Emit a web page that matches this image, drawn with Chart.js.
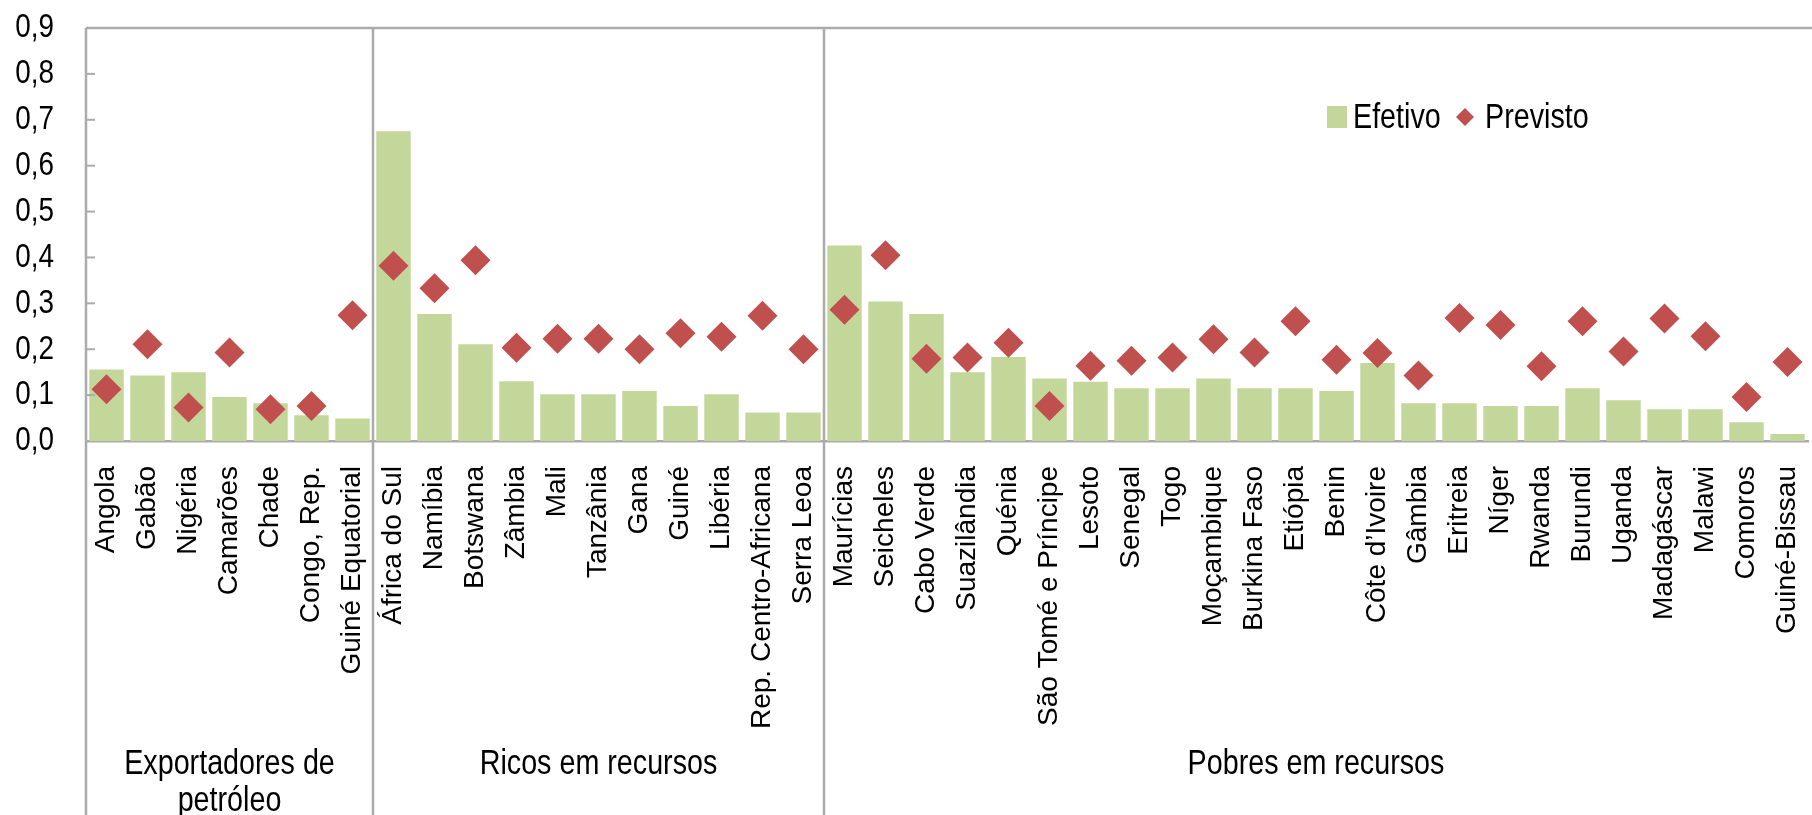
<!DOCTYPE html>
<html lang="pt">
<head>
<meta charset="utf-8">
<title>Efetivo e previsto</title>
<script src="https://cdn.jsdelivr.net/npm/chart.js@4.4.1/dist/chart.umd.min.js"></script>
<style>
  html, body { margin: 0; padding: 0; background: #fff; overflow: hidden; }
  canvas { display: block; }
</style>
</head>
<body>
<canvas id="grafico" width="1823" height="815"></canvas>
<script>
const paises = [
  'Angola', 'Gabão', 'Nigéria', 'Camarões', 'Chade', 'Congo, Rep.', 'Guiné Equatorial',
  'África do Sul', 'Namíbia', 'Botswana', 'Zâmbia', 'Mali', 'Tanzânia', 'Gana', 'Guiné',
  'Libéria', 'Rep. Centro-Africana', 'Serra Leoa',
  'Maurícias', 'Seicheles', 'Cabo Verde', 'Suazilândia', 'Quénia', 'São Tomé e Príncipe',
  'Lesoto', 'Senegal', 'Togo', 'Moçambique', 'Burkina Faso', 'Etiópia', 'Benin',
  'Côte d’Ivoire', 'Gâmbia', 'Eritreia', 'Níger', 'Rwanda', 'Burundi', 'Uganda',
  'Madagáscar', 'Malawi', 'Comoros', 'Guiné-Bissau'
];

const efetivo = [
  0.156, 0.143, 0.150, 0.096, 0.082, 0.056, 0.049,
  0.675, 0.277, 0.211, 0.130, 0.102, 0.102, 0.109, 0.076, 0.102, 0.062, 0.062,
  0.426, 0.304, 0.277, 0.150, 0.183, 0.136, 0.129, 0.115, 0.115, 0.136, 0.115, 0.115,
  0.109, 0.170, 0.082, 0.082, 0.076, 0.076, 0.115, 0.089, 0.069, 0.069, 0.041, 0.015
];

const previsto = [
  0.113, 0.211, 0.073, 0.193, 0.069, 0.076, 0.274,
  0.382, 0.333, 0.394, 0.203, 0.223, 0.223, 0.200, 0.235, 0.227, 0.273, 0.200,
  0.286, 0.405, 0.179, 0.182, 0.214, 0.076, 0.164, 0.175, 0.182, 0.222, 0.193, 0.261,
  0.177, 0.192, 0.143, 0.268, 0.253, 0.163, 0.261, 0.195, 0.267, 0.228, 0.096, 0.172
];

const grupos = [['Exportadores de', 'petróleo'], ['Ricos em recursos'], ['Pobres em recursos']];
const tamanhoGrupos = [7, 11, 24];
const valoresEixo = [0, 0.1, 0.2, 0.3, 0.4, 0.5, 0.6, 0.7, 0.8, 0.9];

const verde = '#C4D79B';
const vermelho = '#C0504D';
const cinza = '#ABABAB';
const fonteNormal = '"Liberation Sans", Arial, sans-serif';
const estreito = 0.82; // Arial Narrow ~ 82% da largura da Arial

function textoEstreito(ctx, texto, x, y, alinhamento) {
  ctx.save();
  ctx.translate(x, y);
  ctx.scale(estreito, 1);
  ctx.textAlign = alinhamento;
  ctx.fillText(texto, 0, 0);
  ctx.restore();
}

// moldura, separadores, rótulos do eixo y, rótulos de grupo e legenda
const extras = {
  id: 'extras',
  afterDraw(chart) {
    const ctx = chart.ctx;
    const a = chart.chartArea;
    const x = chart.scales.x;
    const y = chart.scales.y;
    const altura = chart.height;

    ctx.save();
    ctx.strokeStyle = cinza;
    ctx.lineWidth = 2.5;

    ctx.beginPath();
    ctx.moveTo(a.left, a.top);
    ctx.lineTo(a.right + 5, a.top);
    ctx.stroke();

    // marcas do eixo y, para dentro, e valores
    ctx.fillStyle = '#000';
    ctx.font = '34px ' + fonteNormal;
    ctx.textBaseline = 'middle';
    valoresEixo.forEach((v, i) => {
      const py = y.getPixelForValue(v);
      textoEstreito(ctx, v.toFixed(1).replace('.', ','), a.left - 32, py, 'right');
      if (i === 0 || i === valoresEixo.length - 1) return;
      ctx.lineWidth = 2;
      ctx.beginPath();
      ctx.moveTo(a.left, py);
      ctx.lineTo(a.left + 9, py);
      ctx.stroke();
    });

    ctx.lineWidth = 2.5;
    ctx.textBaseline = 'alphabetic';
    ctx.font = '35px ' + fonteNormal;
    let inicio = 0;
    tamanhoGrupos.forEach((n, i) => {
      const x0 = x.getPixelForValue(inicio - 0.5);
      const x1 = x.getPixelForValue(inicio + n - 0.5);
      ctx.beginPath();
      ctx.moveTo(x0, a.top);
      ctx.lineTo(x0, altura);
      ctx.stroke();
      const meio = (x0 + x1) / 2;
      grupos[i].forEach((linha, k) => {
        textoEstreito(ctx, linha, meio, 774 + k * 37, 'center');
      });
      inicio += n;
    });

    // legenda
    ctx.fillStyle = verde;
    ctx.fillRect(1327, 106, 20, 22);
    ctx.fillStyle = '#000';
    ctx.font = '35px ' + fonteNormal;
    textoEstreito(ctx, chart.data.datasets[1].label, 1353, 128, 'left');
    ctx.fillStyle = vermelho;
    ctx.beginPath();
    ctx.moveTo(1465, 108);
    ctx.lineTo(1474, 117);
    ctx.lineTo(1465, 126);
    ctx.lineTo(1456, 117);
    ctx.closePath();
    ctx.fill();
    ctx.fillStyle = '#000';
    textoEstreito(ctx, chart.data.datasets[0].label, 1485, 128, 'left');
    ctx.restore();
  }
};

new Chart(document.getElementById('grafico'), {
  data: {
    labels: paises,
    datasets: [
      {
        type: 'line',
        label: 'Previsto',
        data: previsto,
        showLine: false,
        pointStyle: 'rectRot',
        pointRadius: 15,
        pointBackgroundColor: vermelho,
        pointBorderColor: vermelho,
        pointBorderWidth: 0,
        order: 0
      },
      {
        type: 'bar',
        label: 'Efetivo',
        data: efetivo,
        backgroundColor: verde,
        borderWidth: 0,
        barPercentage: 0.84,
        categoryPercentage: 1,
        order: 1
      }
    ]
  },
  options: {
    responsive: false,
    animation: false,
    events: [],
    layout: { padding: { top: 28, right: 2, left: 0, bottom: 0 } },
    plugins: {
      legend: { display: false },
      tooltip: { enabled: false }
    },
    scales: {
      x: {
        grid: { display: false },
        border: { display: true, color: cinza, width: 2.5 },
        ticks: {
          autoSkip: false,
          maxRotation: 90,
          minRotation: 90,
          padding: 17,
          color: '#000',
          font: { family: fonteNormal, size: 28 }
        },
        afterFit(scale) {
          scale.height = 815 - 441;
          scale.paddingLeft = 0;
          scale.paddingRight = 0;
        }
      },
      y: {
        min: 0,
        max: 0.9,
        grid: { display: false },
        border: { display: false },
        afterBuildTicks(scale) {
          scale.ticks = valoresEixo.map(v => ({ value: v }));
        },
        ticks: { display: false },
        afterFit(scale) {
          scale.width = 86;
          scale.paddingTop = 0;
          scale.paddingBottom = 0;
        }
      }
    }
  },
  plugins: [extras]
});
</script>
</body>
</html>
